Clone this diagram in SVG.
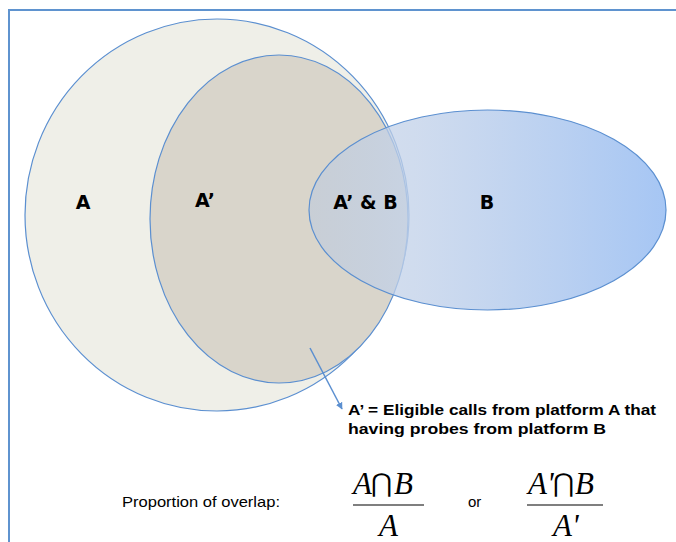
<svg xmlns="http://www.w3.org/2000/svg" width="676" height="542" viewBox="0 0 676 542">
<defs>
<linearGradient id="gB" x1="309" y1="0" x2="666" y2="0" gradientUnits="userSpaceOnUse">
<stop offset="0" stop-color="#b8c8e0" stop-opacity="0.5"/>
<stop offset="0.3" stop-color="#c4d3ea" stop-opacity="0.8"/>
<stop offset="1" stop-color="#a6c6f4" stop-opacity="1"/>
</linearGradient>
<marker id="arr" viewBox="0 0 10 10" refX="9" refY="5" markerWidth="7" markerHeight="7" orient="auto" markerUnits="userSpaceOnUse">
<path d="M0,0 L10,5 L0,10 z" fill="#5b8fd0"/>
</marker>
<style>
.set{stroke:#5b8fd0;stroke-width:1.2}
.lbl{font-family:"DejaVu Sans",sans-serif;font-weight:bold;font-size:19px;fill:#000}
.note{font-family:"Liberation Sans",Arial,sans-serif;font-weight:bold;font-size:15.5px;fill:#000}
.plain{font-family:"Liberation Sans",Arial,sans-serif;font-size:15px;fill:#000}
.math{font-family:"Liberation Serif","Times New Roman",serif;font-style:italic;font-size:31px;fill:#000}
.op{font-family:"DejaVu Sans",sans-serif;font-size:26px;fill:#000}
</style>
</defs>
<rect x="9" y="10" width="720" height="600" fill="#ffffff" stroke="#5f93cf" stroke-width="2"/>
<g id="setA"><ellipse class="set" cx="217" cy="215" rx="192" ry="196" fill="#efefe8"/></g>
<g id="setAprime"><ellipse class="set" cx="279" cy="219" rx="129" ry="164" fill="#d9d5cb"/></g>
<g id="setB"><ellipse class="set" cx="487.5" cy="210" rx="178.5" ry="100" fill="url(#gB)"/></g>
<g id="labels">
<text class="lbl" x="83" y="209" text-anchor="middle">A</text>
<text class="lbl" x="205" y="207" text-anchor="middle">A’</text>
<text class="lbl" x="365.5" y="209" text-anchor="middle">A’ &amp; B</text>
<text class="lbl" x="487" y="209" text-anchor="middle">B</text>
</g>
<g id="connectors"><line x1="310" y1="348" x2="342" y2="409" stroke="#5b8fd0" stroke-width="1.5" marker-end="url(#arr)"/></g>
<g id="note">
<text class="note" x="348" y="415" textLength="308" lengthAdjust="spacingAndGlyphs">A’ = Eligible calls from platform A that</text>
<text class="note" x="348" y="434" textLength="258" lengthAdjust="spacingAndGlyphs">having probes from platform B</text>
</g>
<g id="formula">
<text class="plain" x="122" y="507" textLength="158" lengthAdjust="spacingAndGlyphs">Proportion of overlap:</text>
<text class="math" x="353" y="494">A</text>
<text class="op" x="371" y="492">⋂</text>
<text class="math" x="394" y="494">B</text>
<line x1="353" y1="505" x2="424" y2="505" stroke="#000" stroke-width="1.2"/>
<text class="math" x="379" y="536">A</text>
<text class="plain" x="468" y="507" font-size="16">or</text>
<text class="math" x="528" y="494">A'</text>
<text class="op" x="553" y="492">⋂</text>
<text class="math" x="575" y="494">B</text>
<line x1="527" y1="505" x2="603" y2="505" stroke="#000" stroke-width="1.2"/>
<text class="math" x="553" y="536">A'</text>
</g>
</svg>
